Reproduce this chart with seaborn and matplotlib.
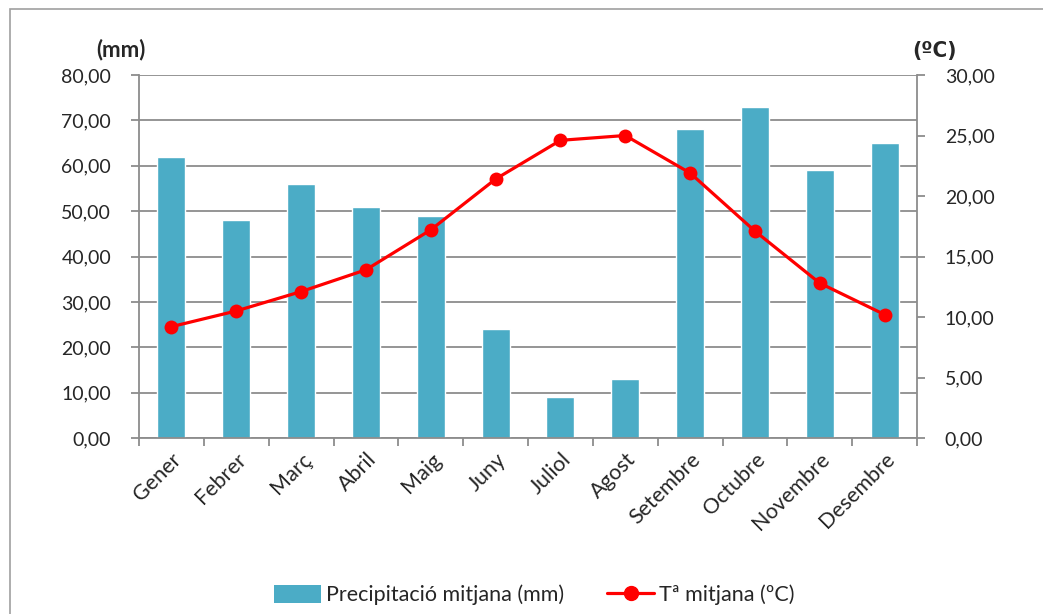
import numpy as np
import pandas as pd
import matplotlib
matplotlib.use('Agg')
import matplotlib.pyplot as plt
import seaborn as sns
from matplotlib.ticker import FuncFormatter, FixedLocator, MultipleLocator
from matplotlib.patches import Rectangle
from matplotlib.lines import Line2D
from matplotlib.patches import Patch

# Data
months = ['Gener', 'Febrer', 'Març', 'Abril', 'Maig', 'Juny',
          'Juliol', 'Agost', 'Setembre', 'Octubre', 'Novembre', 'Desembre']
precip = [62, 48, 56, 51, 49, 24, 9, 13, 68, 73, 59, 65]
temp = [9.2, 10.5, 12.1, 13.9, 17.2, 21.4, 24.6, 25.0, 21.9, 17.1, 12.8, 10.2]

bar_label = 'Precipitació mitjana (mm)'
line_label = 'Tª mitjana (ºC)'

sns.set_theme(style='white')
plt.rcParams['font.family'] = ['Lato', 'DejaVu Sans']
FS = 14      # tick numbers
FS_TXT = 15.5  # month names, legend
FS_UNIT = 16

df = pd.DataFrame({'mes': months, 'prec': precip, 'temp': temp})

grid_col = '#8c8c8c'
bar_col = '#4BACC6'
line_col = '#FF0000'

fig = plt.figure(figsize=(10.43, 6.14), dpi=100)
ax = fig.add_axes([139 / 1043, 176 / 614, 778 / 1043, 363 / 614])

sns.barplot(data=df, x='mes', y='prec', color=bar_col, width=0.43,
            saturation=1, ax=ax, zorder=2)
ax.set_xlim(-0.5, 11.5)
ax.set_ylim(0, 80)
ax.yaxis.set_major_locator(MultipleLocator(10))
ax.grid(axis='y', color=grid_col, linewidth=1.3, zorder=0)
ax.set_axisbelow(True)
fmt = FuncFormatter(lambda v, p: f'{v:.2f}'.replace('.', ','))
ax.yaxis.set_major_formatter(fmt)
ax.set_xlabel('')
ax.set_ylabel('')

ax2 = ax.twinx()
sns.lineplot(x=np.arange(len(months)), y=temp, ax=ax2, color=line_col,
             linewidth=2.3, marker='o', markersize=10, markeredgewidth=0,
             zorder=3)
ax2.set_xlim(-0.5, 11.5)
ax2.set_ylim(0, 30)
ax2.yaxis.set_major_locator(MultipleLocator(5))
ax2.yaxis.set_major_formatter(fmt)
ax2.set_ylabel('')

for a in (ax, ax2):
    for s in a.spines.values():
        s.set_visible(False)
    a.tick_params(axis='y', length=6, width=1.3, color=grid_col,
                  labelsize=FS, pad=14, direction='out')
ax.spines['left'].set_visible(True)
ax.spines['left'].set_color(grid_col)
ax.spines['left'].set_linewidth(1.3)
ax.spines['bottom'].set_visible(True)
ax.spines['bottom'].set_color(grid_col)
ax.spines['bottom'].set_linewidth(1.3)
ax2.spines['right'].set_visible(True)
ax2.spines['right'].set_color(grid_col)
ax2.spines['right'].set_linewidth(1.3)
ax.tick_params(axis='y', left=True)
ax2.tick_params(axis='y', right=True, left=False)

# month labels centred on bars, tick marks between categories
ax.xaxis.set_major_locator(FixedLocator(np.arange(len(months))))
ax.set_xticklabels(months, rotation=45, ha='right', rotation_mode='anchor',
                   fontsize=FS_TXT)
ax.tick_params(axis='x', which='major', length=0, pad=8)
ax.xaxis.set_minor_locator(FixedLocator(np.arange(-0.5, 12, 1)))
ax.tick_params(axis='x', which='minor', length=6, width=1.3, color=grid_col,
               bottom=True)

ax.text(-0.055, 1.07, '(mm)', transform=ax.transAxes, fontsize=FS_UNIT,
        fontweight='bold', ha='left', va='center')
ax2.text(0.9936, 1.065, '(ºC)', transform=ax2.transAxes, fontsize=FS_UNIT,
         fontweight='bold', ha='left', va='center',
         family=['DejaVu Sans'], fontstretch='condensed')

handles = [Patch(facecolor=bar_col, edgecolor='none'),
           Line2D([0], [0], color=line_col, linewidth=2.3, marker='o',
                  markersize=10)]
fig.legend(handles, [bar_label, line_label], loc='center',
           bbox_to_anchor=(0.512, 0.031), ncol=2, frameon=False,
           fontsize=FS_TXT, handlelength=2.2, handleheight=0.9,
           handletextpad=0.2, columnspacing=2.0)

fig.patches.append(Rectangle((10 / 1043, -0.5), 2, 1.5 - 9.5 / 614,
                             transform=fig.transFigure, fill=False,
                             edgecolor='#a0a0a0', linewidth=1.2))

fig.savefig('out.png', dpi=100)
